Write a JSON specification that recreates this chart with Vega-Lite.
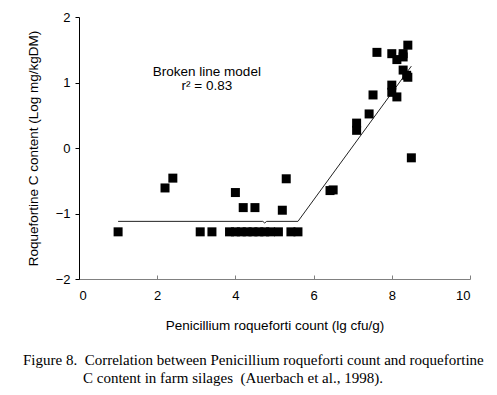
{
  "$schema": "https://vega.github.io/schema/vega-lite/v6.json",
  "width": 391,
  "height": 262,
  "autosize": {"type": "none"},
  "padding": {"left": 79, "top": 17, "right": 27, "bottom": 116},
  "background": "white",
  "config": {
    "view": {"stroke": null},
    "axis": {"grid": false, "labelFont": "Liberation Sans", "titleFont": "Liberation Sans", "labelFontSize": 13, "titleFontSize": 13.5, "titleFontWeight": "normal", "labelColor": "black", "titleColor": "black"}
  },
  "datasets": {
    "obs": [
      {"count": 1.0, "roq": -1.28}, {"count": 3.1, "roq": -1.28}, {"count": 3.4, "roq": -1.28},
      {"count": 3.85, "roq": -1.28}, {"count": 4.0, "roq": -1.28}, {"count": 4.15, "roq": -1.28},
      {"count": 4.3, "roq": -1.28}, {"count": 4.45, "roq": -1.28}, {"count": 4.6, "roq": -1.28},
      {"count": 4.75, "roq": -1.28}, {"count": 4.9, "roq": -1.28}, {"count": 5.1, "roq": -1.28},
      {"count": 5.42, "roq": -1.28}, {"count": 5.6, "roq": -1.28},
      {"count": 2.2, "roq": -0.61}, {"count": 2.4, "roq": -0.46}, {"count": 4.0, "roq": -0.68},
      {"count": 4.2, "roq": -0.91}, {"count": 4.5, "roq": -0.91}, {"count": 5.3, "roq": -0.47},
      {"count": 5.2, "roq": -0.95},
      {"count": 6.42, "roq": -0.65}, {"count": 6.5, "roq": -0.64},
      {"count": 7.1, "roq": 0.38}, {"count": 7.1, "roq": 0.27}, {"count": 7.42, "roq": 0.52},
      {"count": 7.52, "roq": 0.81}, {"count": 7.62, "roq": 1.46}, {"count": 8.0, "roq": 1.44},
      {"count": 8.13, "roq": 1.35}, {"count": 8.29, "roq": 1.44}, {"count": 8.41, "roq": 1.57},
      {"count": 8.29, "roq": 1.39}, {"count": 8.0, "roq": 0.96}, {"count": 8.0, "roq": 0.85},
      {"count": 8.13, "roq": 0.78}, {"count": 8.29, "roq": 1.19}, {"count": 8.38, "roq": 1.11},
      {"count": 8.41, "roq": 1.08}, {"count": 8.5, "roq": -0.15}
    ],
    "model": [
      {"count": 1.0, "roq": -1.12}, {"count": 4.7, "roq": -1.12}, {"count": 4.75, "roq": -1.145},
      {"count": 4.8, "roq": -1.12}, {"count": 5.6, "roq": -1.12}, {"count": 8.5, "roq": 1.25}
    ],
    "notes": [
      {"label": "Broken line model", "count": 3.27, "roq": 1.16},
      {"label": "r\u00b2 = 0.83", "count": 3.27, "roq": 0.95}
    ]
  },
  "title": {
    "text": ["Figure 8.\u00a0 Correlation between Penicillium roqueforti count and roquefortine", "\u200b\u00a0\u00a0\u00a0\u00a0\u00a0\u00a0\u00a0\u00a0\u00a0\u00a0\u00a0\u00a0\u00a0\u00a0\u00a0\u00a0C content in farm silages \u00a0(Auerbach et al., 1998)."],
    "orient": "bottom",
    "anchor": "start",
    "frame": "group",
    "dx": -56,
    "offset": 21,
    "font": "Liberation Serif",
    "fontSize": 15,
    "fontWeight": "normal",
    "color": "black",
    "lineHeight": 18
  },
  "layer": [
    {
      "data": {"name": "model"},
      "mark": {"type": "line", "color": "#222222", "strokeWidth": 1},
      "encoding": {
        "x": {"field": "count", "type": "quantitative", "sort": null,
          "scale": {"domain": [0, 10], "nice": false},
          "axis": {"values": [0, 2, 4, 6, 8, 10], "format": "d", "title": "Penicillium roqueforti count (lg cfu/g)", "domainColor": "#808080", "tickColor": "#808080", "tickSize": -4, "labelPadding": 14, "titlePadding": 16}},
        "y": {"field": "roq", "type": "quantitative",
          "scale": {"domain": [-2, 2], "nice": false},
          "axis": {"values": [-2, -1, 0, 1, 2], "format": "d", "title": "Roquefortine C content (Log mg/kgDM)", "domainColor": "black", "tickColor": "black", "tickSize": 4, "labelPadding": 5, "titlePadding": 15}}
      }
    },
    {
      "data": {"name": "obs"},
      "mark": {"type": "point", "shape": "square", "filled": true, "color": "black", "opacity": 1, "size": 81},
      "encoding": {
        "x": {"field": "count", "type": "quantitative"},
        "y": {"field": "roq", "type": "quantitative"}
      }
    },
    {
      "data": {"name": "notes"},
      "mark": {"type": "text", "font": "Liberation Sans", "fontSize": 13.5, "color": "black"},
      "encoding": {
        "x": {"field": "count", "type": "quantitative"},
        "y": {"field": "roq", "type": "quantitative"},
        "text": {"field": "label"}
      }
    }
  ]
}
